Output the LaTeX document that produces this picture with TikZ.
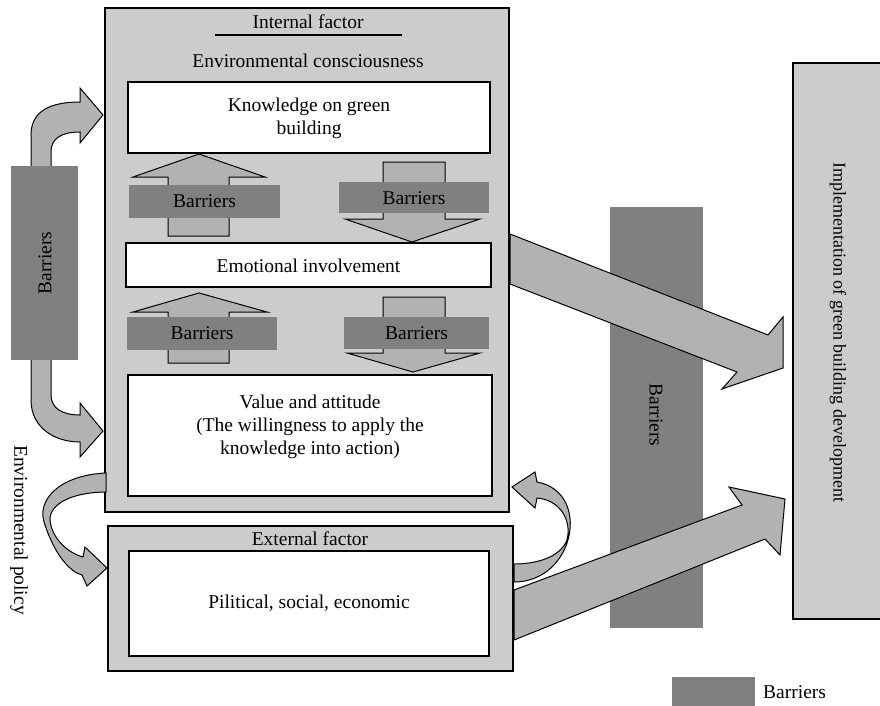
\documentclass[tikz,border=0pt]{standalone}
\usepackage{fontspec}
\setmainfont{Liberation Serif}
\definecolor{boxgray}{gray}{0.80}
\definecolor{arrgray}{gray}{0.70}
\definecolor{bargray}{gray}{0.50}
\begin{document}
\begin{tikzpicture}[x=1pt,y=-1pt,
  box/.style={draw=black, line width=1.2pt, inner sep=0pt, outer sep=0pt, anchor=north west},
  lbox/.style={box, fill=boxgray},
  wbox/.style={box, fill=white},
  barbox/.style={fill=bargray, draw=none, inner sep=0pt, outer sep=0pt, anchor=north west},
  arr/.style={draw=black, line width=1pt, fill=arrgray, line join=miter},
  txt/.style={font=\fontsize{19.5}{23}\selectfont, align=center, inner sep=0pt}
]
\useasboundingbox (0,0) rectangle (880,705);

% big boxes
\node[lbox, minimum width=404pt, minimum height=504pt] (internal) at (105,8) {};
\node[lbox, minimum width=405pt, minimum height=145pt] (external) at (108,526) {};
\node[lbox, minimum width=95pt, minimum height=556pt] (impl) at (793,63) {};
\node[barbox, minimum width=93pt, minimum height=421pt] (midbar) at (610,207) {};
\node[barbox, minimum width=83pt, minimum height=33pt] (legend) at (672,677) {};

% inner white boxes
\node[wbox, minimum width=362pt, minimum height=71pt] (know) at (128,82) {};
\node[wbox, minimum width=365pt, minimum height=44pt] (emo) at (126,243) {};
\node[wbox, minimum width=364pt, minimum height=121pt] (value) at (128,375) {};
\node[wbox, minimum width=360pt, minimum height=105pt] (pol) at (129,551) {};

% texts
\node[txt] (tint) at (308,22) {Internal factor};
\draw[line width=1.6pt] (215,35) -- (402,35);
\node[txt] (tenv) at (308,61) {Environmental consciousness};
\node[txt] (tknow) at ([yshift=-1pt]know.center) {Knowledge on green\\building};
\node[txt] (temo) at ([yshift=-1pt]emo.center) {Emotional involvement};
\node[txt] (tval) at (310,427) {Value and attitude\\(The willingness to apply the\\knowledge into action)};
\node[txt] (text) at (310,539) {External factor};
\node[txt] (tpol) at (309,603) {Pilitical, social, economic};
\node[txt, font=\fontsize{18}{22}\selectfont, rotate=-90] (timpl) at (838,332) {Implementation of green building development};
\node[txt, rotate=-90] (tmid) at (656,415) {Barriers};
\node[txt, rotate=-90] (tenvpol) at (19,530) {Environmental policy};
\node[txt, anchor=west] (tleg) at (763,692) {Barriers};

% small up/down arrows
\draw[arr] (168,236) -- (168,177) -- (133,177) -- (199,154) -- (265,177) -- (229,177) -- (229,236) -- cycle;
\draw[arr] (168,363) -- (168,312) -- (133,312) -- (199,293) -- (267,312) -- (229,312) -- (229,363) -- cycle;
\draw[arr] (383,162) -- (445,162) -- (445,219) -- (480,219) -- (412,242) -- (345,219) -- (383,219) -- cycle;
\draw[arr] (383,297) -- (445,297) -- (445,353) -- (480,353) -- (413,372) -- (347,353) -- (383,353) -- cycle;

% barrier bars on small arrows
\node[barbox, minimum width=151pt, minimum height=33pt] (b1) at (129,185) {};
\node[barbox, minimum width=150pt, minimum height=31pt] (b2) at (339,182) {};
\node[barbox, minimum width=150pt, minimum height=33pt] (b3) at (127,317) {};
\node[barbox, minimum width=145pt, minimum height=32pt] (b4) at (344,317) {};
\node[txt] at (b1.center) {Barriers};
\node[txt] at ([yshift=-1pt]b2.center) {Barriers};
\node[txt] at (b3.center) {Barriers};
\node[txt] at (b4.center) {Barriers};

% left curved arrows
\draw[arr] (31,170) -- (31,135) .. controls (31,110) and (52,102) .. (80,102) -- (80,88) -- (103,115) -- (80,143) -- (80,132) .. controls (62,132) and (51,138) .. (51,152) -- (51,170) -- cycle;
\draw[arr] (31,356) -- (31,400) .. controls (31,428) and (55,442) .. (80,442) -- (80,457) -- (103,431) -- (80,403) -- (80,415) .. controls (62,415) and (51,408) .. (51,395) -- (51,356) -- cycle;
\node[barbox, minimum width=67pt, minimum height=194pt] (leftbar) at (11,166) {};
\node[txt, rotate=90] (tleft) at (45,263) {Barriers};

% bottom curved arrows
\draw[arr] (106,473) .. controls (60,475) and (35,500) .. (45,525) .. controls (55,555) and (70,572) .. (82,575) -- (87,586) -- (107,568) -- (85,547) -- (83,557) .. controls (65,552) and (50,535) .. (50,518) .. controls (52,500) and (80,492) .. (106,492) -- cycle;
\draw[arr] (514,582) .. controls (575,582) and (592,492) .. (537,482) -- (535,472) -- (512,487) -- (535,508) -- (537,498) .. controls (560,500) and (572,520) .. (567,540) .. controls (560,558) and (535,564) .. (514,564) -- cycle;

% big arrows
\draw[arr] (510,234) -- (768,335) -- (783,317) -- (783,368) -- (722,389) -- (737,372) -- (510,284) -- cycle;
\draw[arr] (514,590) -- (742,505) -- (729,487) -- (785,499) -- (780,555) -- (765,539) -- (514,640) -- cycle;
\end{tikzpicture}
\end{document}
